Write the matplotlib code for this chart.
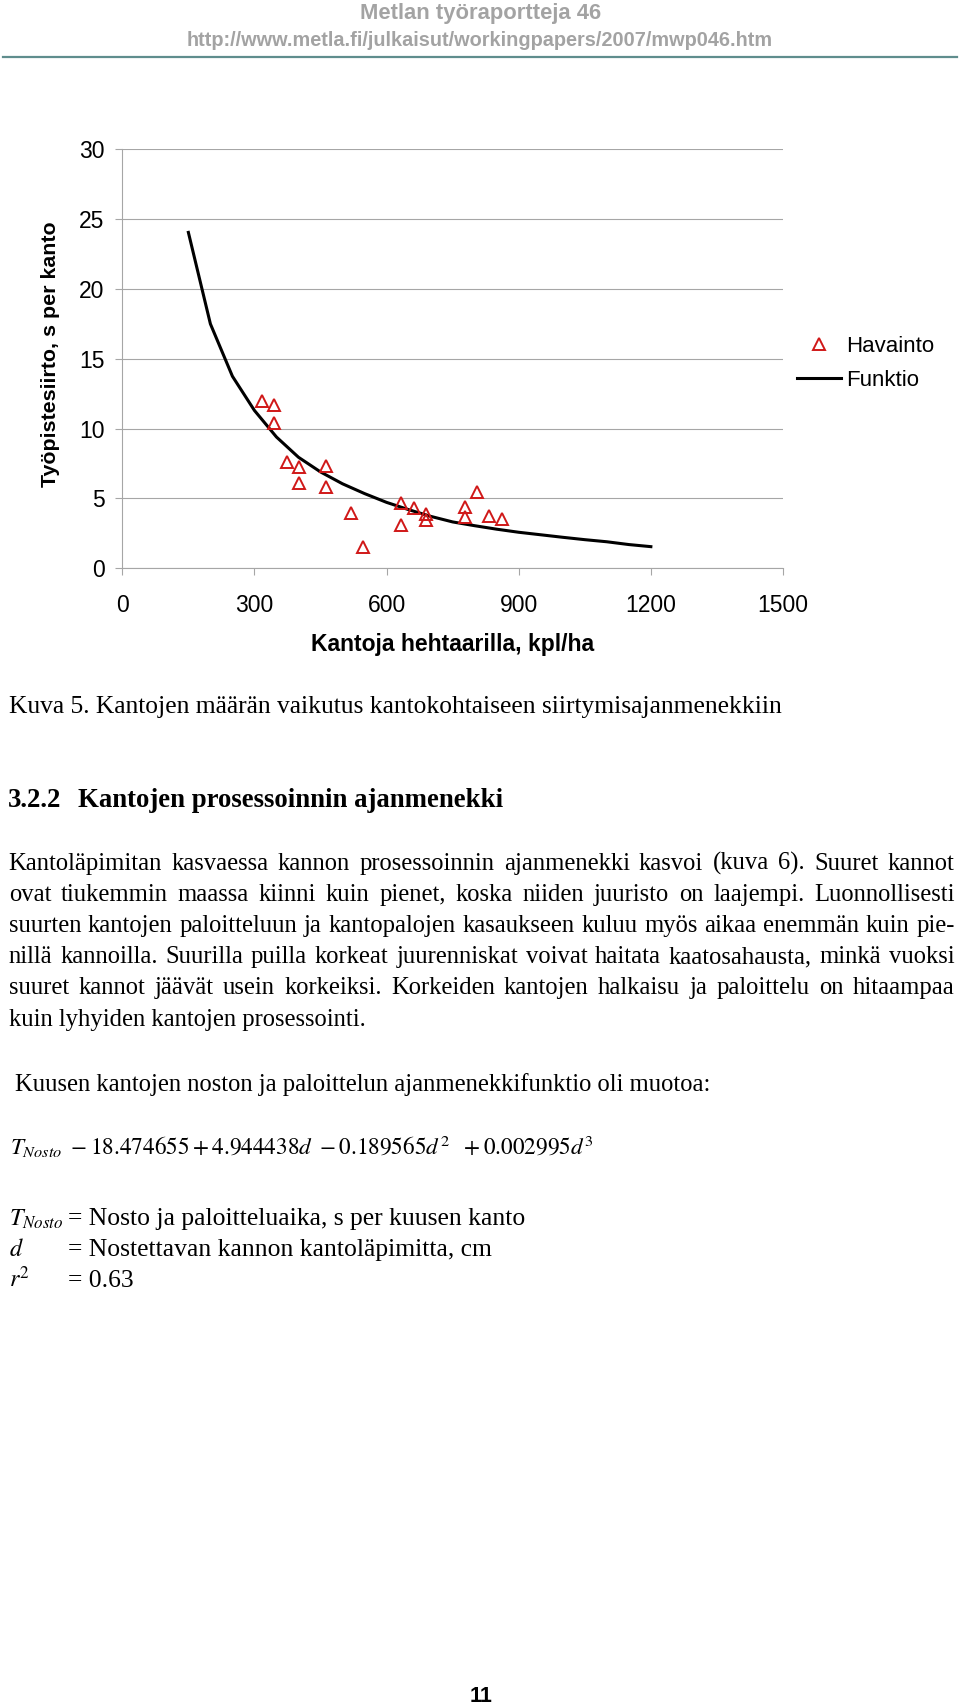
import matplotlib
matplotlib.use("Agg")
import matplotlib.pyplot as plt
from matplotlib.lines import Line2D

# ---------------- data ----------------
obs_x = [318, 345, 345, 375, 402, 402, 462, 462, 520, 546,
         632, 632, 662, 689, 689, 777, 777, 806, 833, 863]
obs_y = [12.0, 11.7, 10.4, 7.6, 7.25, 6.1, 7.35, 5.85, 3.95, 1.55,
         4.7, 3.1, 4.3, 3.9, 3.45, 4.4, 3.65, 5.45, 3.75, 3.5]

fun_x = [150, 200, 250, 300, 350, 400, 450, 500, 550, 600, 650,
         700, 750, 800, 850, 900, 950, 1000, 1050, 1100, 1150, 1200]
fun_y = [24.05, 17.5, 13.75, 11.3, 9.4, 7.95, 6.9, 6.05, 5.35, 4.72, 4.2,
         3.72, 3.32, 3.05, 2.8, 2.58, 2.4, 2.22, 2.05, 1.9, 1.7, 1.55]

x_ticks = [0, 300, 600, 900, 1200, 1500]
y_ticks = [0, 5, 10, 15, 20, 25, 30]

x_label = "Kantoja hehtaarilla, kpl/ha"
y_label = "Työpistesiirto, s per kanto"
legend_labels = ["Havainto", "Funktio"]

header1 = "Metlan työraportteja 46"
header2 = "http://www.metla.fi/julkaisut/workingpapers/2007/mwp046.htm"
caption = "Kuva 5. Kantojen määrän vaikutus kantokohtaiseen siirtymisajanmenekkiin"
heading_num = "3.2.2"
heading = "Kantojen prosessoinnin ajanmenekki"
para_lines = [
    "Kantoläpimitan kasvaessa kannon prosessoinnin ajanmenekki kasvoi (kuva 6). Suuret kannot",
    "ovat tiukemmin maassa kiinni kuin pienet, koska niiden juuristo on laajempi. Luonnollisesti",
    "suurten kantojen paloitteluun ja kantopalojen kasaukseen kuluu myös aikaa enemmän kuin pie-",
    "nillä kannoilla. Suurilla puilla korkeat juurenniskat voivat haitata kaatosahausta, minkä vuoksi",
    "suuret kannot jäävät usein korkeiksi. Korkeiden kantojen halkaisu ja paloittelu on hitaampaa",
]
para_last = "kuin lyhyiden kantojen prosessointi."
intro = "Kuusen kantojen noston ja paloittelun ajanmenekkifunktio oli muotoa:"
formula = r"$T_{Nosto}\ -18.474655+4.944438d\ -0.189565d^{2}\ \ +0.002995d^{3}$"
defs = [
    (r"$T_{Nosto}$", "= Nosto ja paloitteluaika, s per kuusen kanto"),
    (r"$d$", "= Nostettavan kannon kantoläpimitta, cm"),
    (r"$r^{2}$", "= 0.63"),
]
page_no = "11"

# ---------------- figure ----------------
plt.rcParams["mathtext.fontset"] = "stix"
W, H = 960, 1704
fig = plt.figure(figsize=(W / 100, H / 100), dpi=100)
renderer = fig.canvas.get_renderer()
SANS = "Liberation Sans"
SERIF = "Liberation Serif"


def fx(x):
    return x / W


def fy(y):
    return 1 - y / H


def put(x, y, s, size, width=None, ha="left", va="baseline", **kw):
    t = fig.text(fx(x), fy(y), s, fontsize=size, ha=ha, va=va, **kw)
    if width is not None:
        w = t.get_window_extent(renderer).width
        t.set_fontsize(size * width / w)
    return t


def justify(y, line, size, left, right, **kw):
    words = line.split()
    ts = [fig.text(0, fy(y), w, fontsize=size, va="baseline", **kw) for w in words]
    widths = [t.get_window_extent(renderer).width for t in ts]
    gap = (right - left - sum(widths)) / (len(words) - 1)
    x = left
    for t, w in zip(ts, widths):
        t.set_x(fx(x))
        x += w + gap


# header
hc = "#a3a3a3"
put(480.5, 19.5, header1, 14, width=241, ha="center", family=SANS,
    weight="bold", color=hc)
put(480, 46.5, header2, 14, width=586, ha="center", family=SANS,
    weight="bold", color=hc)
fig.add_artist(Line2D([fx(3), fx(957)], [fy(57), fy(57)], color="#5f8d8d",
                      lw=1.6, transform=fig.transFigure))

# ---------------- chart ----------------
ax = fig.add_axes([122.3 / W, 1 - 568.3 / H, 660.7 / W, 419 / H])
grey = "#a6a6a6"
red = "#d01818"
ax.plot(fun_x, fun_y, color="black", lw=2.2, solid_joinstyle="miter",
        label=legend_labels[1], zorder=3)
ax.plot(obs_x, obs_y, ls="none", marker="^", ms=8.5, mfc="none", mec=red,
        mew=1.4, label=legend_labels[0], zorder=4, clip_on=False)
ax.set_xlim(0, 1500)
ax.set_ylim(0, 30)
ax.set_xticks(x_ticks)
ax.set_yticks(y_ticks)
ax.yaxis.grid(True, color=grey, lw=0.8)
ax.set_axisbelow(True)
for s in ("top", "right"):
    ax.spines[s].set_visible(False)
for s in ("left", "bottom"):
    ax.spines[s].set_color(grey)
    ax.spines[s].set_linewidth(0.8)
ax.tick_params(axis="x", direction="out", length=5, width=0.8, color=grey,
               pad=13.2, labelsize=16.5)
ax.tick_params(axis="y", direction="out", length=5, width=0.8, color=grey,
               pad=7.7, labelsize=16.5)
for lab in ax.get_xticklabels() + ax.get_yticklabels():
    lab.set_family(SANS)
ax.set_xlabel(x_label, family=SANS, weight="bold", fontsize=16.5, va="center")
ax.xaxis.set_label_coords((452.8 - 122.3) / 660.7, (568.3 - 644.7) / 419)
ax.set_ylabel(y_label, family=SANS, weight="bold", fontsize=15.4, va="center")
ax.yaxis.set_label_coords((51 - 122.3) / 660.7, (568.3 - 354) / 419)

handles = [
    Line2D([], [], ls="none", marker="^", ms=8.5, mfc="none", mec=red, mew=1.4),
    Line2D([], [], color="black", lw=2.2),
]
fig.legend(handles, legend_labels, loc="upper left",
           bbox_to_anchor=(fx(797), fy(335.5)), bbox_transform=fig.transFigure,
           frameon=False, borderpad=0, borderaxespad=0, handlelength=1.96,
           handletextpad=0.25, labelspacing=0.6,
           prop={"family": SANS, "size": 16})

# ---------------- page text ----------------
put(8.7, 712.5, caption, 17, width=773, family=SERIF)

hd = put(78.3, 807.3, heading, 18, width=424, family=SERIF, weight="bold")
put(8.3, 807.3, heading_num, hd.get_fontsize(), family=SERIF, weight="bold")

last = put(8.7, 1025.7, para_last, 17, width=357.7, family=SERIF)
body_size = last.get_fontsize()
for i, line in enumerate(para_lines):
    justify(870 + 31.1 * i, line, body_size, 8.7, 954.6, family=SERIF)

put(15.2, 1090.5, intro, body_size, width=692.6, family=SERIF)
put(10, 1155.5, formula, 16.5, width=582)

d0 = put(68.5, 1225.5, defs[0][1], body_size, width=456.5, family=SERIF)
def_size = d0.get_fontsize()
for i, (sym, txt) in enumerate(defs):
    yb = 1225.5 + 30.6 * i
    put(9, yb, sym, 17.5)
    if i > 0:
        put(68.5, yb, txt, def_size, family=SERIF)

put(481, 1701.5, page_no, 15.5, ha="center", family=SANS, weight="bold")

fig.savefig("out.png", dpi=100)
